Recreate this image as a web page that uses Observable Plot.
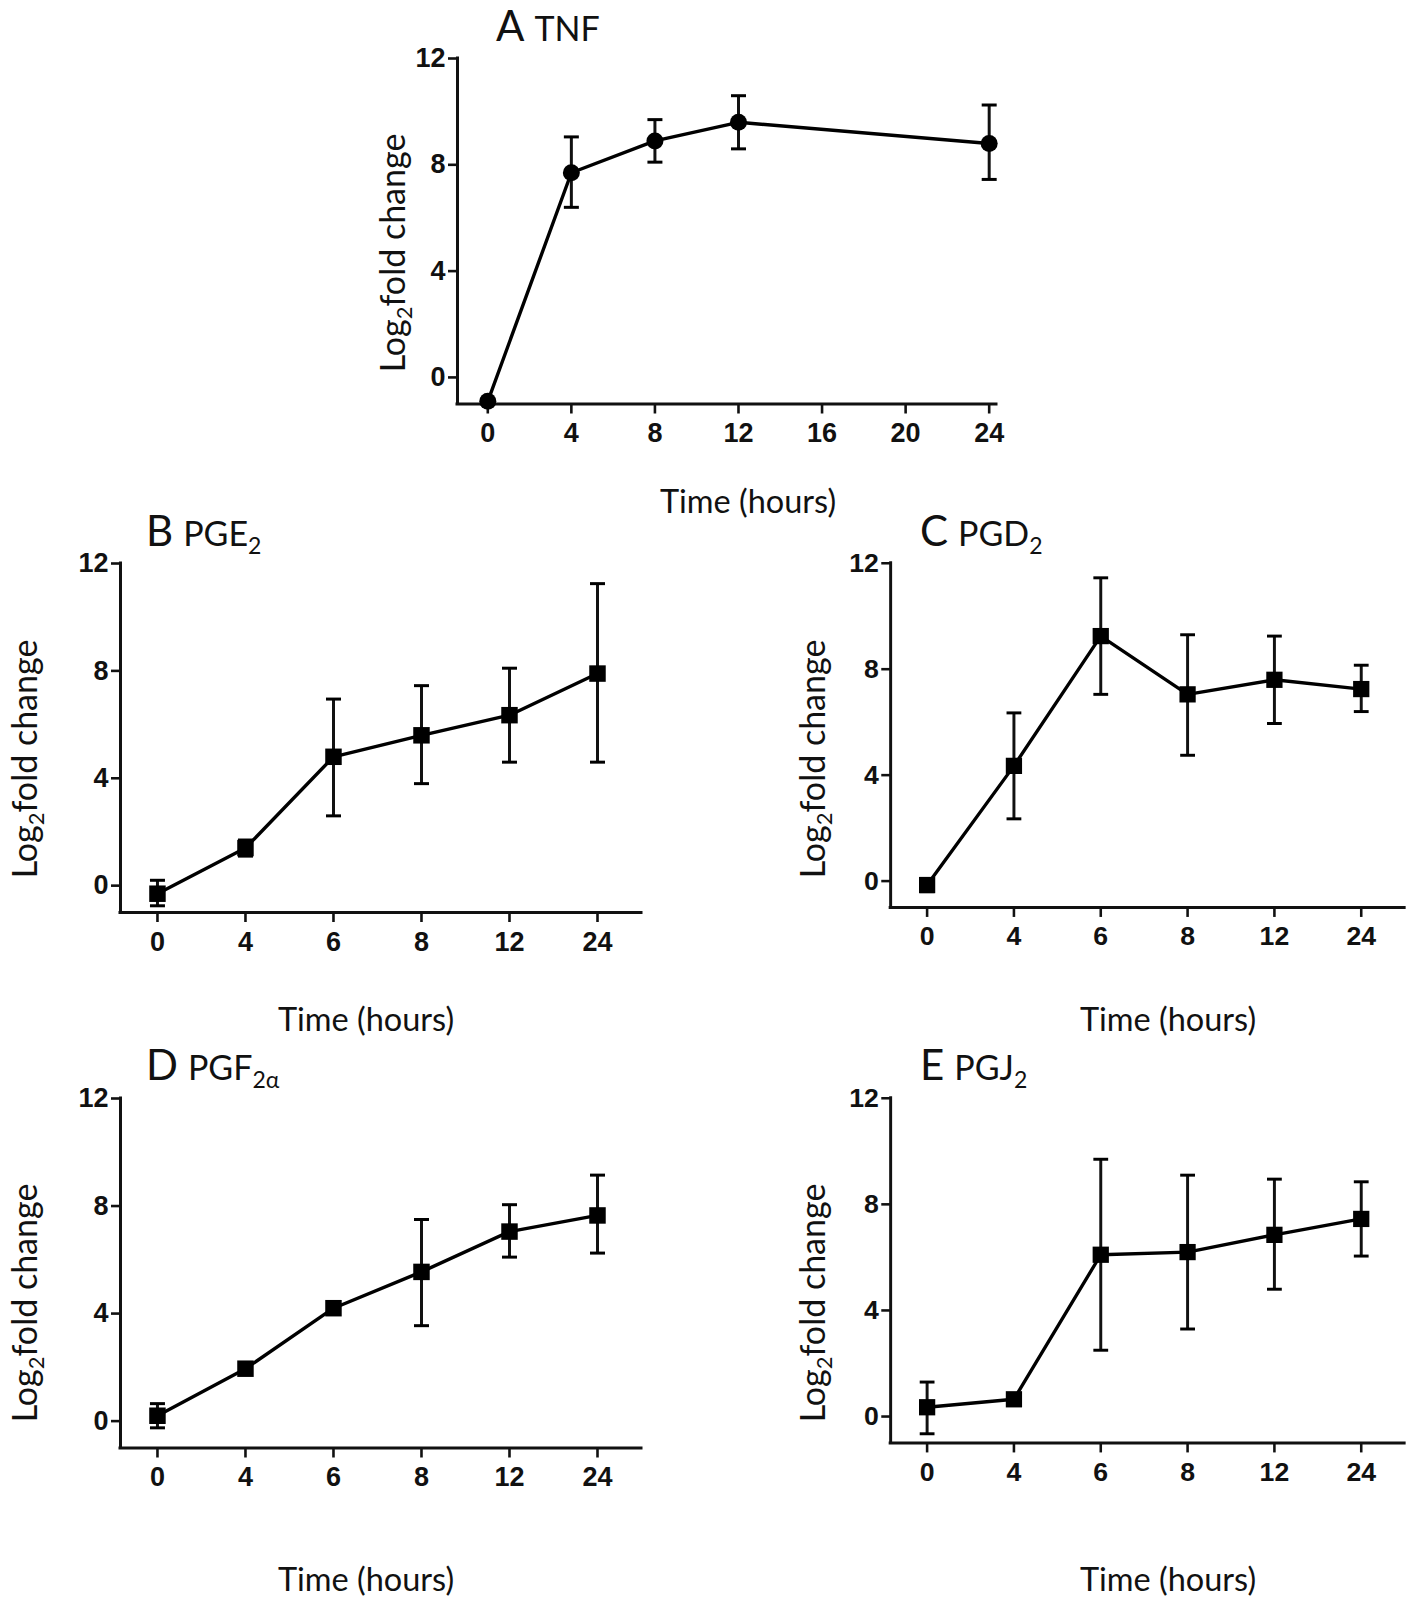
<!DOCTYPE html>
<html>
<head>
<meta charset="utf-8">
<script src="https://cdn.jsdelivr.net/npm/d3@7"></script>
<script src="https://cdn.jsdelivr.net/npm/@observablehq/plot@0.6"></script>
<style>
  html, body { margin: 0; padding: 0; background: #fff; }
  #fig { position: relative; width: 1416px; height: 1600px; background: #fff; overflow: hidden; }
  .panel { position: absolute; }
  .lbl { position: absolute; font-family: Lato, "Open Sans", sans-serif; color: #111; white-space: nowrap; }
  .xl { font-size: 32.5px; transform: translate(-50%, -50%); }
  .yl { font-size: 34px; transform: translate(-50%, -50%) rotate(-90deg); }
  .yl sub { font-size: 22px; vertical-align: -7px; line-height: 0; }
  .title { font-size: 34px; line-height: 1; }
  .title .big { font-size: 42px; margin-right: 10px; }
  .title sub { font-size: 23px; vertical-align: -8px; line-height: 0; }
</style>
</head>
<body>
<div id="fig"></div>
<script>
// ---- data ----
const tnfTimes = [0, 4, 8, 12, 24];
const tnfTicks = [0, 4, 8, 12, 16, 20, 24];
const tnfMean = [-0.9, 7.7, 8.9, 9.6, 8.8];
const tnfLo   = [-0.9, 6.4, 8.1, 8.6, 7.45];
const tnfHi   = [-0.9, 9.05, 9.7, 10.6, 10.25];

const pgTimeLabels = ["0", "4", "6", "8", "12", "24"];

const pge2Mean = [-0.3, 1.4, 4.8, 5.6, 6.35, 7.9];
const pge2Lo   = [-0.75, 1.1, 2.6, 3.8, 4.6, 4.6];
const pge2Hi   = [0.2, 1.7, 6.95, 7.45, 8.1, 11.25];

const pgd2Mean = [-0.15, 4.35, 9.25, 7.05, 7.6, 7.25];
const pgd2Lo   = [-0.4, 2.35, 7.05, 4.75, 5.95, 6.4];
const pgd2Hi   = [0.1, 6.35, 11.45, 9.3, 9.25, 8.15];

const pgf2aMean = [0.2, 1.95, 4.2, 5.55, 7.05, 7.65];
const pgf2aLo   = [-0.25, 1.85, 4.1, 3.55, 6.1, 6.25];
const pgf2aHi   = [0.65, 2.05, 4.3, 7.5, 8.05, 9.15];

const pgj2Mean = [0.35, 0.65, 6.1, 6.2, 6.85, 7.45];
const pgj2Lo   = [-0.65, 0.55, 2.5, 3.3, 4.8, 6.05];
const pgj2Hi   = [1.3, 0.75, 9.7, 9.1, 8.95, 8.85];

const yTicks = [0, 4, 8, 12];
const yDomain = [-1, 12];

// ---- helpers ----
const fig = document.getElementById("fig");

const capSymbol = {
  draw(ctx, size) {
    const w = Math.sqrt(size / Math.PI);
    ctx.moveTo(-w, 0);
    ctx.lineTo(w, 0);
  }
};

function panel(opts) {
  const mL = 64, mT = 18, mR = 12, mB = 56;
  const plotW = opts.right - opts.axisX;
  const plotH = opts.yBot - opts.y12;
  const rows = opts.x.map((x, i) => ({x, m: opts.mean[i], lo: opts.lo[i], hi: opts.hi[i]}));
  const chart = Plot.plot({
    width: mL + plotW + mR,
    height: mT + plotH + mB,
    marginLeft: mL, marginRight: mR, marginTop: mT, marginBottom: mB,
    style: {fontFamily: "'Liberation Sans', Arial, sans-serif", fontSize: "27px", fontWeight: "bold", color: "#111", background: "transparent", overflow: "visible"},
    x: {domain: opts.xDomain, axis: null},
    y: {domain: yDomain, axis: null},
    marks: [
      Plot.axisY({ticks: yTicks, tickSize: 9, tickPadding: 3, strokeWidth: 2.6, fontSize: 27, fontWeight: "bold", label: null}),
      Plot.axisX({ticks: opts.xTicks, tickFormat: opts.tickFormat, tickSize: 10, tickPadding: 9, strokeWidth: 2.6, fontSize: 27, fontWeight: "bold", label: null}),
      Plot.ruleX([opts.xDomain[0]], {y1: yDomain[0], y2: yDomain[1], strokeWidth: 3, strokeLinecap: "square"}),
      Plot.ruleY([yDomain[0]], {x1: opts.xDomain[0], x2: opts.xDomain[1], strokeWidth: 3, strokeLinecap: "square"}),
      Plot.ruleX(rows, {x: "x", y1: "lo", y2: "hi", strokeWidth: 3}),
      Plot.dot(rows, {x: "x", y: "lo", symbol: capSymbol, r: 7.5, stroke: "#000", strokeWidth: 3, fill: "none"}),
      Plot.dot(rows, {x: "x", y: "hi", symbol: capSymbol, r: 7.5, stroke: "#000", strokeWidth: 3, fill: "none"}),
      Plot.line(rows, {x: "x", y: "m", strokeWidth: 3.4, stroke: "#000"}),
      Plot.dot(rows, {x: "x", y: "m", symbol: opts.symbol, r: opts.r, fill: "#000", stroke: "none"})
    ]
  });
  const wrap = document.createElement("div");
  wrap.className = "panel";
  wrap.style.left = (opts.axisX - mL) + "px";
  wrap.style.top = (opts.y12 - mT) + "px";
  wrap.appendChild(chart);
  fig.appendChild(wrap);
}

function label(html, cls, cx, cy) {
  const d = document.createElement("div");
  d.className = "lbl " + cls;
  d.innerHTML = html;
  d.style.left = cx + "px";
  d.style.top = cy + "px";
  fig.appendChild(d);
}

function title(letter, nameHtml, left, top) {
  const d = document.createElement("div");
  d.className = "lbl title";
  d.innerHTML = `<span class="big">${letter}</span>${nameHtml}`;
  d.style.left = left + "px";
  d.style.top = top + "px";
  fig.appendChild(d);
}

const pgIdx = pgTimeLabels.map((_, i) => i);
const pgFmt = i => pgTimeLabels[i];
const yLab = "Log<sub>2</sub>fold change";

// ---- Panel A ----
panel({axisX: 457, right: 996, y12: 58, yBot: 403.5, xDomain: [-1.45, 24.35], x: tnfTimes, xTicks: tnfTicks,
       tickFormat: d => String(d), mean: tnfMean, lo: tnfLo, hi: tnfHi, symbol: "circle", r: 8.5});
title("A", "TNF", 496, 4);
label("Time (hours)", "xl", 748, 500);
label(yLab, "yl", 391, 253);

// ---- Panel B ----
panel({axisX: 119.5, right: 640.5, y12: 563, yBot: 912, xDomain: [-0.42, 5.5], x: pgIdx, xTicks: pgIdx,
       tickFormat: pgFmt, mean: pge2Mean, lo: pge2Lo, hi: pge2Hi, symbol: "square", r: 9.3});
title("B", "PGE<sub>2</sub>", 146, 509);
label("Time (hours)", "xl", 366, 1018);
label(yLab, "yl", 23, 759);

// ---- Panel C ----
panel({axisX: 891, right: 1412, y12: 563, yBot: 912, xDomain: [-0.42, 5.5], x: pgIdx, xTicks: pgIdx,
       tickFormat: pgFmt, mean: pgd2Mean, lo: pgd2Lo, hi: pgd2Hi, symbol: "square", r: 9.3});
title("C", "PGD<sub>2</sub>", 920, 509);
label("Time (hours)", "xl", 1168, 1018);
label(yLab, "yl", 811, 759);

// ---- Panel D ----
panel({axisX: 119.5, right: 640.5, y12: 1098, yBot: 1447.5, xDomain: [-0.42, 5.5], x: pgIdx, xTicks: pgIdx,
       tickFormat: pgFmt, mean: pgf2aMean, lo: pgf2aLo, hi: pgf2aHi, symbol: "square", r: 9.3});
title("D", "PGF<sub>2α</sub>", 146, 1043);
label("Time (hours)", "xl", 366, 1578);
label(yLab, "yl", 23, 1303);

// ---- Panel E ----
panel({axisX: 891, right: 1412, y12: 1098, yBot: 1447.5, xDomain: [-0.42, 5.5], x: pgIdx, xTicks: pgIdx,
       tickFormat: pgFmt, mean: pgj2Mean, lo: pgj2Lo, hi: pgj2Hi, symbol: "square", r: 9.3});
title("E", "PGJ<sub>2</sub>", 920, 1043);
label("Time (hours)", "xl", 1168, 1578);
label(yLab, "yl", 811, 1303);
</script>
</body>
</html>
